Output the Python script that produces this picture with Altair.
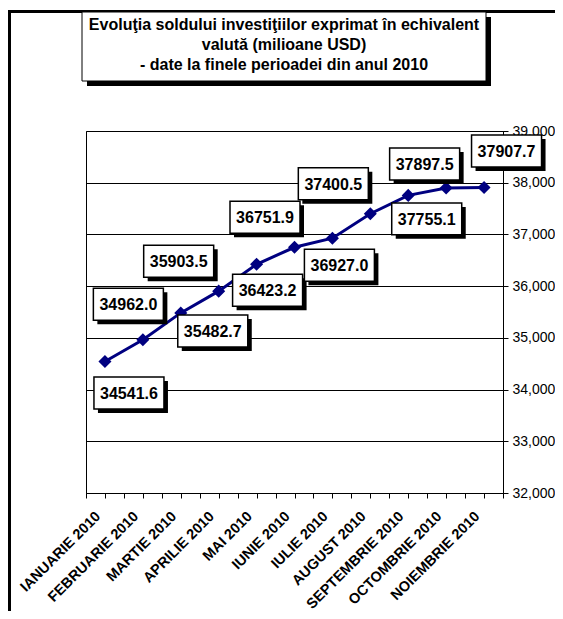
import json
import altair as alt
import pandas as pd

# ---- data ----
months = ["IANUARIE 2010", "FEBRUARIE 2010", "MARTIE 2010", "APRILIE 2010",
          "MAI 2010", "IUNIE 2010", "IULIE 2010", "AUGUST 2010",
          "SEPTEMBRIE 2010", "OCTOMBRIE 2010", "NOIEMBRIE 2010"]
values = [34541.6, 34962.0, 35482.7, 35903.5, 36423.2, 36751.9,
          36927.0, 37400.5, 37755.1, 37897.5, 37907.7]
y_ticks = [32000, 33000, 34000, 35000, 36000, 37000, 38000, 39000]
title_lines = ["Evoluţia soldului investiţiilor exprimat în echivalent",
               "valută (milioane USD)",
               "- date la finele perioadei din anul 2010"]

# ---- layout (pixel offsets of the data-label boxes from their points) ----
label_dx = [24, -14.5, 32, -40, 11, -29.5, 7, -37, 18.5, -21.5, 22.5]
label_dy = [31.5, -35.5, 18, -30, 26, -30, 27, -30, 23.5, -24, -36.5]

W, H = 417, 362
PAD_L, PAD_T = 78, 123
TOT_W, TOT_H = 547, 603
Y0, Y1 = 32000, 39000
XMIN, XMAX = -0.5, len(months) - 0.5
FONT = "Liberation Sans"
NAVY = "#000080"

df = pd.DataFrame({"idx": list(range(len(months))), "month": months,
                   "value": values, "dx": label_dx, "dy": label_dy})

xs = alt.Scale(domain=[XMIN, XMAX], nice=False, zero=False)
ys = alt.Scale(domain=[Y0, Y1], nice=False, zero=False)

ux = (XMAX - XMIN) / W      # data units per pixel (x)
uy = (Y1 - Y0) / H          # data units per pixel (y)

months_js = json.dumps(months)
x_axis = alt.Axis(
    values=[XMIN + 0.5 * i for i in range(2 * len(months) + 1)],
    labelExpr=f"datum.value % 1 === 0 ? {months_js}[datum.value] : ''",
    labelAngle=-45, labelAlign="right", labelBaseline="middle",
    labelFont=FONT, labelFontSize=14.5, labelFontWeight="bold", labelColor="black",
    labelPadding=16, labelOffset=-7, labelOverlap=False, labelBound=False,
    labelFlush=False, tickSize=5, tickColor="black", domainColor="black",
    grid=False, title=None)
y_axis = alt.Axis(
    orient="right", values=y_ticks, labelExpr="format(datum.value, ',.0f')",
    labelFont=FONT, labelFontSize=14, labelColor="black", labelPadding=4,
    tickSize=5, tickColor="black", domainColor="black", grid=True,
    gridColor="black", gridWidth=1, gridOpacity=1, title=None)


def X(f):
    return alt.X(f, scale=xs, axis=x_axis)


def Y(f):
    return alt.Y(f, scale=ys, axis=y_axis)


base = alt.Chart(df)

line = base.mark_line(color=NAVY, strokeWidth=3).encode(
    x=X("idx:Q"), y=Y("value:Q"))

pts = base.mark_point(shape="diamond", filled=True, size=170, color=NAVY,
                      opacity=1).encode(x=X("idx:Q"), y=Y("value:Q"))

lab = base.transform_calculate(
    lx=f"datum.idx + datum.dx * {ux}",
    ly=f"datum.value - datum.dy * {uy}",
    sx=f"datum.idx + (datum.dx + 4) * {ux}",
    sy=f"datum.value - (datum.dy + 4) * {uy}")

BOX = "M-1,-0.457H1V0.457H-1Z"
shadow = lab.mark_point(shape=BOX, size=4900, filled=True, color="black",
                        opacity=1).encode(x=X("sx:Q"), y=Y("sy:Q"))
box = lab.mark_point(shape=BOX, size=4900, filled=True, fill="white",
                     stroke="black", strokeWidth=1.5, opacity=1,
                     fillOpacity=1, strokeOpacity=1).encode(
    x=X("lx:Q"), y=Y("ly:Q"))
txt = lab.mark_text(font=FONT, fontSize=16, fontWeight="bold", color="black",
                    align="center", baseline="middle", dy=1).encode(
    x=X("lx:Q"), y=Y("ly:Q"),
    text=alt.Text("value:Q", format=".1f"))

one = alt.Data(values=[{}])

# outer frame (relative to plot origin)
frame_top = alt.Chart(one).mark_rule(color="black", strokeWidth=3).encode(
    x=alt.value(-PAD_L), x2=alt.value(TOT_W - PAD_L), y=alt.value(3.5 - PAD_T))
frame_left = alt.Chart(one).mark_rule(color="black", strokeWidth=3).encode(
    x=alt.value(1.5 - PAD_L), y=alt.value(2 - PAD_T), y2=alt.value(TOT_H - PAD_T))

# title box with shadow
t_shadow = alt.Chart(one).mark_rect(color="black").encode(
    x=alt.value(1), x2=alt.value(405), y=alt.value(-114), y2=alt.value(-45))
t_box = alt.Chart(one).mark_rect(fill="white", stroke="black", strokeWidth=1).encode(
    x=alt.value(-4), x2=alt.value(400), y=alt.value(-119), y2=alt.value(-50))
t_text = alt.Chart(one).mark_text(
    font=FONT, fontSize=16, fontWeight="bold", color="black", align="center",
    baseline="alphabetic", lineHeight=20).encode(
    x=alt.value(198), y=alt.value(-101), text=alt.value(title_lines))

chart = alt.layer(
    line, pts, shadow, box, txt, frame_top, frame_left, t_shadow, t_box, t_text
).properties(
    width=W, height=H,
    padding={"left": PAD_L, "top": PAD_T, "right": TOT_W - PAD_L - W,
             "bottom": TOT_H - PAD_T - H},
    autosize=alt.AutoSizeParams(type="none"),
    background="white",
).configure_view(stroke="black", strokeWidth=1)

chart.save("out.html", embed_options={"renderer": "svg", "actions": False})
